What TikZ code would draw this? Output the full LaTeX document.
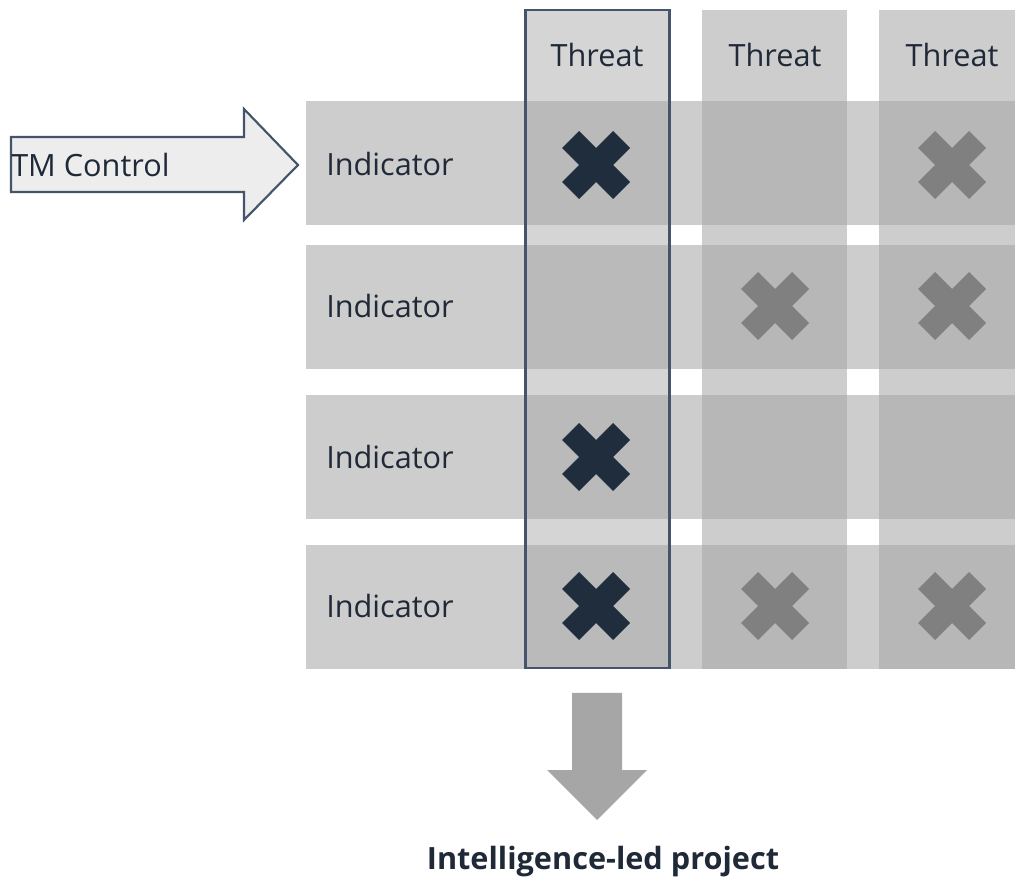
\documentclass[tikz,border=0pt]{standalone}
\usepackage{fontspec}
\setmainfont{Open Sans}
\definecolor{cellgray}{HTML}{CDCDCD}
\definecolor{colone}{HTML}{D5D5D5}
\definecolor{cross}{HTML}{B7B7B7}
\definecolor{crossone}{HTML}{BABABA}
\definecolor{darkx}{HTML}{1F2D3D}
\definecolor{greyx}{HTML}{808080}
\definecolor{framec}{HTML}{44546A}
\definecolor{txt}{HTML}{1F2937}
\definecolor{arrowfill}{HTML}{EDEDED}
\definecolor{downc}{HTML}{A6A6A6}
\tikzset{
  lbl/.style={font=\fontsize{23}{26}\selectfont, text=txt, inner sep=0pt},
  xmark/.pic={\fill[pic actions] (-34,-17)--(-17,-34)--(0,-17)--(17,-34)--(34,-17)--(17,0)--(34,17)--(17,34)--(0,17)--(-17,34)--(-34,17)--(-17,0)--cycle;},
  colframe/.style={draw=framec, line width=2.2pt, inner sep=0pt, minimum width=108pt, minimum height=493.5pt}
}
\begin{document}
\begin{tikzpicture}[x=0.75pt,y=-0.75pt]
\useasboundingbox (0,0) rectangle (1015,880);
% rows
\foreach \t/\b in {101/225,245/369,395/519,545/669}{
  \fill[cellgray] (306,\t) rectangle (1015,\b);
}
% columns
\fill[colone] (527,10) rectangle (668,669);
\fill[cellgray] (702,10) rectangle (847,669);
\fill[cellgray] (879,10) rectangle (1015,669);
% intersections
\foreach \t/\b in {101/225,245/369,395/519,545/669}{
  \fill[crossone] (527,\t) rectangle (668,\b);
  \fill[cross] (702,\t) rectangle (847,\b);
  \fill[cross] (879,\t) rectangle (1015,\b);
}
% frame around first column
\node[colframe] (frame) at (597.5,339) {};
% headers
\node[lbl] (t1) at (597,55) {Threat};
\node[lbl] (t2) at (775,55) {Threat};
\node[lbl] (t3) at (952,55) {Threat};
% row labels
\node[lbl, anchor=west] (i1) at (326,164) {Indicator};
\node[lbl, anchor=west] (i2) at (326,306) {Indicator};
\node[lbl, anchor=west] (i3) at (326,457) {Indicator};
\node[lbl, anchor=west] (i4) at (326,606) {Indicator};
% crosses
\pic[fill=darkx] at (596,165) {xmark};
\pic[fill=greyx] at (952,165) {xmark};
\pic[fill=greyx] at (775,306) {xmark};
\pic[fill=greyx] at (952,306) {xmark};
\pic[fill=darkx] at (596,457) {xmark};
\pic[fill=darkx] at (596,606) {xmark};
\pic[fill=greyx] at (775,606) {xmark};
\pic[fill=greyx] at (952,606) {xmark};
% TM Control arrow
\draw[framec, fill=arrowfill, line width=1.6pt, line join=miter]
  (11,137)--(244,137)--(244,109)--(298,165)--(244,220)--(244,192)--(11,192)--cycle;
\node[lbl, anchor=west] (tm) at (11,165) {TM Control};
% down arrow
\fill[downc] (572,693)--(622,693)--(622,770)--(647,770)--(597,820)--(547,770)--(572,770)--cycle;
\node[lbl, font=\fontsize{23}{26}\selectfont\bfseries] (proj) at (603,862) {Intelligence-led project};
\end{tikzpicture}
\end{document}
